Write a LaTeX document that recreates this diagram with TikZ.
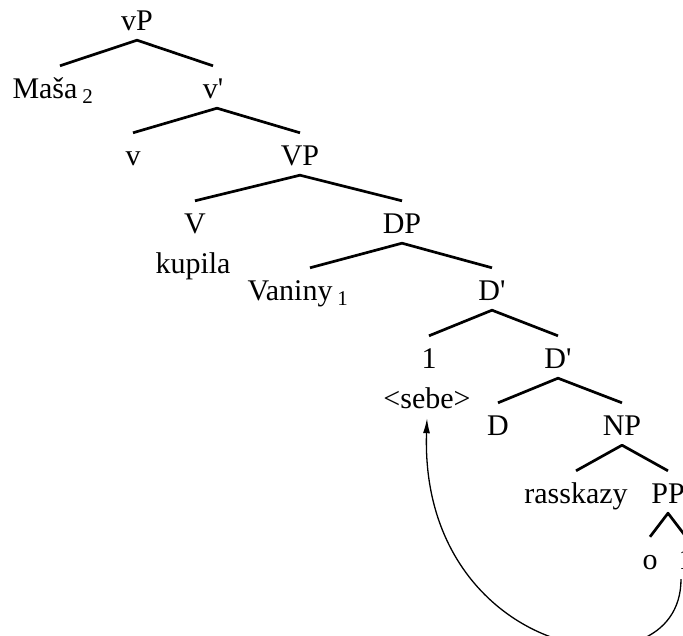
\documentclass[tikz,border=0pt]{standalone}
\usepackage{fontspec}
\setmainfont{Liberation Serif}
\usetikzlibrary{arrows.meta}
\begin{document}
\begin{tikzpicture}[x=1pt,y=-1pt]
			\tikzstyle{every node}+=[inner sep=0pt, anchor=base, text height=32pt, text depth=10pt, font=\fontsize{30}{36}\selectfont]
			\tikzstyle{branch}=[black, line width=2.7pt, line join=round]
			\tikzstyle{move}=[black, line width=1.3pt, -{Latex[length=15pt,width=7pt]}]
			\useasboundingbox (0,0) rectangle (683,635);
			\node (vP) at (137,30) {vP};
			\node (Masa) at (53,98) {Maša\,\textsubscript{2}};
			\node (vbar) at (213,98) {v\textquotesingle};
			\node (vhead) at (133,165) {v};
			\node (VP) at (300,165) {VP};
			\node (V) at (195,233) {V};
			\node (kupila) at (193,273) {kupila};
			\node (DP) at (402,233) {DP};
			\node (Vaniny) at (298,300) {Vaniny\,\textsubscript{1}};
			\node (Dbar) at (492,300) {D\textquotesingle};
			\node (one) at (429,368) {1};
			\node (sebe) at (427,408) {\textless sebe\textgreater};
			\node (Dbartwo) at (558,368) {D\textquotesingle};
			\node (D) at (498,435) {D};
			\node (NP) at (622,435) {NP};
			\node (rasskazy) at (576,503) {rasskazy};
			\node (PP) at (668,503) {PP};
			\node (o) at (650,569) {o};
			\node (onetwo) at (686,569) {1};
			\draw [branch] ([xshift=7pt]Masa.north) -- (vP.south) -- (vbar.north);
			\draw [branch] (vhead.north) -- ([xshift=4pt]vbar.south) -- (VP.north);
			\draw [branch] (V.north) -- (VP.south) -- (DP.north);
			\draw [branch] ([xshift=12pt]Vaniny.north) -- (DP.south) -- (Dbar.north);
			\draw [branch] (one.north) -- (Dbar.south) -- (Dbartwo.north);
			\draw [branch] (D.north) -- (Dbartwo.south) -- (NP.north);
			\draw [branch] (rasskazy.north) -- (NP.south) -- (PP.north);
			\draw [branch] (o.north) -- (PP.south) -- (onetwo.north);
			\draw [move] ([xshift=-5pt]onetwo.south) .. controls +(0,122) and +(-8,242) .. (sebe.south);
\end{tikzpicture}
\end{document}
